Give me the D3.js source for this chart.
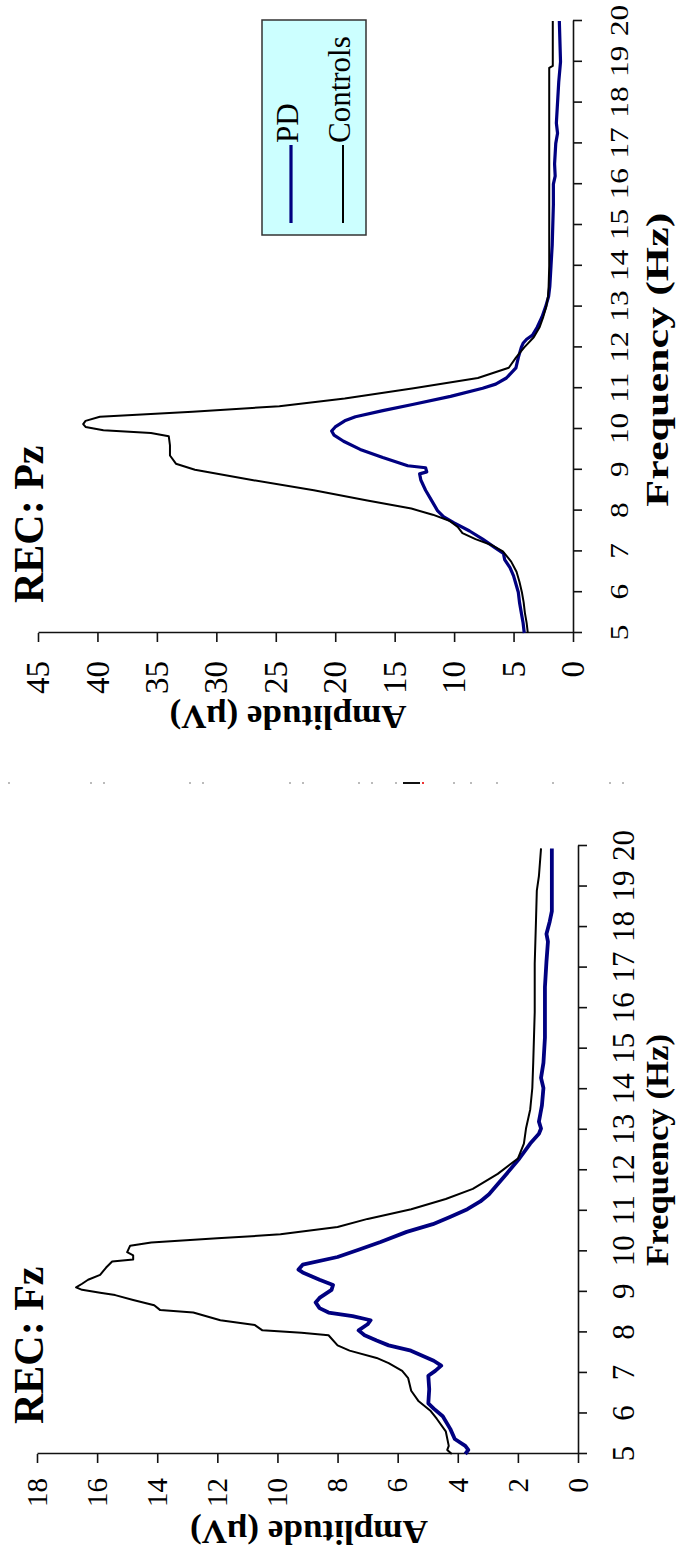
<!DOCTYPE html>
<html lang="en">
<head>
<meta charset="utf-8">
<title>REC: Pz / Fz amplitude spectra</title>
<script src="https://d3js.org/d3.v7.min.js"></script>
<style>
  body { margin: 0; background: #fff; }
  svg { display: block; }
  text { font-family: "Liberation Serif", "Times New Roman", serif; fill: #000; }
</style>
</head>
<body>
<script>

// ---- data ----
var freqTicks = [5, 6, 7, 8, 9, 10, 11, 12, 13, 14, 15, 16, 17, 18, 19, 20];
var pzAmpTicks = [0, 5, 10, 15, 20, 25, 30, 35, 40, 45];
var fzAmpTicks = [0, 2, 4, 6, 8, 10, 12, 14, 16, 18];
var seriesNames = ["PD", "Controls"];

// REC: Pz
var pzCtrlFreq = [5.0, 5.25, 5.5, 5.75, 6.0, 6.25, 6.5, 6.75, 7.0, 7.15, 7.3, 7.45, 7.6, 7.75, 7.9, 8.05, 8.25, 8.5, 8.75, 9.0, 9.15, 9.35, 9.6, 9.82, 9.9, 9.97, 10.05, 10.12, 10.2, 10.3, 10.42, 10.56, 10.75, 11.0, 11.25, 11.5, 11.75, 12.0, 12.25, 12.5, 12.75, 13.0, 13.25, 13.5, 14.0, 15.0, 16.0, 17.0, 18.0, 18.85, 18.9, 20.0];
var pzCtrlAmp  = [3.8, 3.9, 4.05, 4.15, 4.3, 4.5, 4.75, 5.2, 5.9, 6.8, 8.2, 9.3, 9.7, 10.4, 11.8, 13.6, 17.3, 21.8, 27.0, 31.8, 33.4, 33.9, 33.9, 34.0, 35.5, 39.5, 41.0, 41.2, 41.0, 39.8, 32.0, 24.7, 19.2, 13.4, 8.0, 5.4, 4.8, 4.1, 3.3, 2.8, 2.5, 2.25, 2.1, 2.05, 2.0, 2.0, 2.0, 2.0, 2.0, 2.0, 1.7, 1.7];
var pzPDFreq = [5.0, 5.25, 5.5, 5.75, 6.0, 6.2, 6.4, 6.6, 6.8, 6.95, 7.1, 7.3, 7.5, 7.7, 7.85, 8.0, 8.25, 8.5, 8.75, 8.9, 8.95, 9.05, 9.1, 9.3, 9.5, 9.7, 9.85, 9.95, 10.05, 10.2, 10.3, 10.45, 10.6, 10.8, 11.0, 11.1, 11.25, 11.5, 11.75, 12.0, 12.1, 12.2, 12.3, 12.5, 12.75, 13.0, 13.25, 13.5, 14.0, 14.5, 15.0, 15.5, 16.0, 16.2, 16.5, 17.0, 17.25, 17.5, 18.0, 18.5, 19.0, 19.5, 20.0];
var pzPDAmp  = [4.1, 4.2, 4.35, 4.5, 4.6, 4.8, 5.0, 5.3, 5.75, 5.85, 6.6, 7.6, 8.7, 10.0, 10.9, 11.4, 11.9, 12.4, 12.8, 12.9, 12.3, 12.4, 13.9, 16.0, 17.9, 19.3, 20.1, 20.3, 20.0, 19.2, 18.3, 16.0, 13.5, 10.3, 7.6, 6.5, 5.6, 4.8, 4.6, 4.35, 4.2, 3.9, 3.4, 3.0, 2.6, 2.3, 2.05, 1.95, 1.85, 1.75, 1.7, 1.65, 1.65, 1.5, 1.55, 1.45, 1.3, 1.4, 1.3, 1.2, 1.05, 1.1, 1.15];

// REC: Fz
var fzCtrlFreq = [5.0, 5.1, 5.2, 5.56, 5.87, 6.06, 6.3, 6.56, 6.87, 7.05, 7.24, 7.37, 7.55, 7.68, 7.93, 7.99, 8.05, 8.18, 8.3, 8.49, 8.55, 8.67, 8.8, 8.92, 8.98, 9.05, 9.11, 9.2, 9.3, 9.42, 9.6, 9.75, 9.8, 9.9, 9.98, 10.14, 10.22, 10.32, 10.42, 10.6, 10.8, 11.04, 11.29, 11.54, 11.91, 12.29, 12.66, 13.03, 13.5, 14.03, 14.65, 15.9, 17.1, 18.1, 18.9, 19.26, 19.94];
var fzCtrlAmp  = [4.2, 4.35, 4.3, 4.4, 4.7, 4.9, 5.3, 5.55, 5.65, 5.85, 6.3, 6.7, 7.6, 8.0, 8.3, 9.2, 10.5, 10.75, 11.9, 12.8, 13.9, 14.1, 14.8, 15.4, 15.9, 16.5, 16.7, 16.5, 16.3, 15.9, 15.7, 15.5, 14.8, 14.8, 15.0, 14.9, 14.2, 12.0, 9.9, 8.0, 7.0, 5.55, 4.4, 3.5, 2.67, 2.0, 1.8, 1.73, 1.59, 1.52, 1.49, 1.44, 1.44, 1.4, 1.37, 1.3, 1.23];
var fzPDFreq = [5.0, 5.1, 5.2, 5.37, 5.62, 5.93, 6.12, 6.25, 6.6, 6.93, 7.05, 7.18, 7.3, 7.55, 7.68, 7.8, 7.93, 8.05, 8.2, 8.3, 8.4, 8.49, 8.6, 8.74, 8.85, 9.05, 9.17, 9.3, 9.48, 9.55, 9.67, 9.86, 10.04, 10.23, 10.48, 10.67, 10.85, 11.04, 11.23, 11.41, 11.54, 11.91, 12.29, 12.66, 12.9, 13.03, 13.2, 13.4, 13.6, 14.03, 14.28, 14.65, 15.27, 16.52, 17.14, 17.64, 17.83, 18.14, 18.39, 19.0, 19.94];
var fzPDAmp  = [3.75, 3.65, 3.75, 4.1, 4.25, 4.5, 4.8, 4.98, 4.95, 4.98, 4.75, 4.55, 4.8, 5.56, 6.3, 6.7, 7.1, 7.3, 7.0, 6.9, 7.5, 8.3, 8.6, 8.73, 8.6, 8.2, 8.15, 8.6, 9.16, 9.3, 9.16, 8.0, 7.3, 6.57, 5.7, 4.83, 4.26, 3.68, 3.25, 2.96, 2.81, 2.38, 1.95, 1.59, 1.3, 1.23, 1.3, 1.25, 1.2, 1.15, 1.23, 1.15, 1.1, 1.1, 1.05, 1.0, 1.05, 0.94, 0.87, 0.87, 0.87];

// ---- layout ----
var width = 678, height = 1552;

// each panel is drawn upright in its own frame, then turned a quarter turn
// counter-clockwise: page x = frame y, page y = originY - frame x
var panels = [
  { title: "REC: Pz", originY: 633, topY: 21, axisX: 573, ampMaxX: 38, ampMax: 45, ampTicks: pzAmpTicks,
    pd: [pzPDFreq, pzPDAmp], ctrl: [pzCtrlFreq, pzCtrlAmp], legend: true, pdWidth: 3.2,
    freqFont: 26, freqStretch: 1.2, freqGap: 37, ampFont: 33, ampGap: 28,
    freqTitleF: 11.7, freqTitleLen: 294, ampTitleX: 288, ampTitleLen: 237, ampTitleOff: 73 },
  { title: "REC: Fz", originY: 1454, topY: 846, axisX: 578, ampMaxX: 37, ampMax: 18, ampTicks: fzAmpTicks,
    pd: [fzPDFreq, fzPDAmp], ctrl: [fzCtrlFreq, fzCtrlAmp], legend: false, pdWidth: 3.8,
    freqFont: 31, freqStretch: 1.0, freqGap: 35, ampFont: 29, ampGap: 24,
    freqTitleF: 12.5, freqTitleLen: 232, ampTitleX: 309, ampTitleLen: 238, ampTitleOff: 67 }
];

var svg = d3.select("body")
  .append("svg")
  .attr("width", width)
  .attr("height", height);

svg.append("rect")
  .attr("width", width)
  .attr("height", height)
  .attr("fill", "white");

// faint specks of the page seam between the two panels
var seamX = [9, 91, 104, 190, 203, 290, 303, 359, 372, 396, 454, 471, 497, 553, 610, 623];
svg.append("g").selectAll("rect")
  .data(seamX)
  .enter().append("rect")
  .attr("x", function(d) { return d - 1; })
  .attr("y", 782)
  .attr("width", 2)
  .attr("height", 2)
  .attr("fill", "#bbb");
svg.append("line")
  .attr("x1", 403).attr("x2", 420)
  .attr("y1", 783).attr("y2", 783)
  .attr("stroke", "#111")
  .attr("stroke-width", 2);
svg.append("rect")
  .attr("x", 422).attr("y", 782)
  .attr("width", 2).attr("height", 2)
  .attr("fill", "#e33");

panels.forEach(function(p) {

  var g = svg.append("g")
    .attr("transform", "translate(0," + p.originY + ") rotate(-90)");

  var x = d3.scaleLinear().domain([5, 20]).range([0, p.originY - p.topY]);
  var y = d3.scaleLinear().domain([0, p.ampMax]).range([p.axisX, p.ampMaxX]);

  // frequency axis
  var fx = g.append("g")
    .attr("transform", "translate(0," + p.axisX + ")")
    .call(d3.axisBottom(x).tickValues(freqTicks).tickSize(9).tickSizeOuter(0).tickPadding(p.freqGap - 9));
  fx.selectAll("text")
    .attr("dy", "0.68em")
    .style("font-size", p.freqFont + "px")
    .attr("transform", "scale(" + p.freqStretch + ",1)");

  // amplitude axis
  var ay = g.append("g")
    .call(d3.axisLeft(y).tickValues(p.ampTicks).tickSize(9).tickSizeOuter(0).tickPadding(p.ampGap - 9));
  ay.selectAll("text")
    .style("font-size", p.ampFont + "px");

  g.selectAll(".domain, .tick line")
    .attr("stroke", "#111")
    .attr("stroke-width", 1.6);

  // axis titles
  g.append("text")
    .attr("x", x(p.freqTitleF))
    .attr("y", 668)
    .attr("text-anchor", "middle")
    .attr("textLength", p.freqTitleLen)
    .attr("lengthAdjust", "spacingAndGlyphs")
    .style("font-size", "31px")
    .style("font-weight", "bold")
    .text("Frequency (Hz)");

  g.append("text")
    .attr("transform", "translate(" + (-p.ampTitleOff) + "," + p.ampTitleX + ") rotate(-90)")
    .attr("text-anchor", "middle")
    .attr("textLength", p.ampTitleLen)
    .attr("lengthAdjust", "spacingAndGlyphs")
    .style("font-size", "34px")
    .style("font-weight", "bold")
    .text("Amplitude (\u00b5V)");

  // panel title
  g.append("text")
    .attr("x", 30)
    .attr("y", 43)
    .style("font-size", "42px")
    .style("font-weight", "bold")
    .text(p.title);

  // curves
  var line = d3.line()
    .x(function(d) { return x(d[0]); })
    .y(function(d) { return y(d[1]); });

  var ctrlData = d3.zip(p.ctrl[0], p.ctrl[1]);
  var pdData = d3.zip(p.pd[0], p.pd[1]);

  g.append("path")
    .datum(pdData)
    .attr("d", line)
    .attr("fill", "none")
    .attr("stroke", "#000080")
    .attr("stroke-width", p.pdWidth)
    .attr("stroke-linejoin", "round");

  g.append("path")
    .datum(ctrlData)
    .attr("d", line)
    .attr("fill", "none")
    .attr("stroke", "#000")
    .attr("stroke-width", 2)
    .attr("stroke-linejoin", "round");

  // legend
  if (p.legend) {
    var lg = g.append("g");
    lg.append("rect")
      .attr("x", 398).attr("y", 262)
      .attr("width", 215).attr("height", 104)
      .attr("fill", "#ccffff")
      .attr("stroke", "#333")
      .attr("stroke-width", 1.5);

    var items = [
      { name: seriesNames[0], color: "#000080", w: 3.2, y: 291, ty: 298 },
      { name: seriesNames[1], color: "#000", w: 2, y: 343, ty: 350 }
    ];
    items.forEach(function(it) {
      lg.append("line")
        .attr("x1", 410).attr("x2", 488)
        .attr("y1", it.y).attr("y2", it.y)
        .attr("stroke", it.color)
        .attr("stroke-width", it.w);
      lg.append("text")
        .attr("x", 490)
        .attr("y", it.ty)
        .style("font-size", "31px")
        .text(it.name);
    });
  }
});

</script>
</body>
</html>
